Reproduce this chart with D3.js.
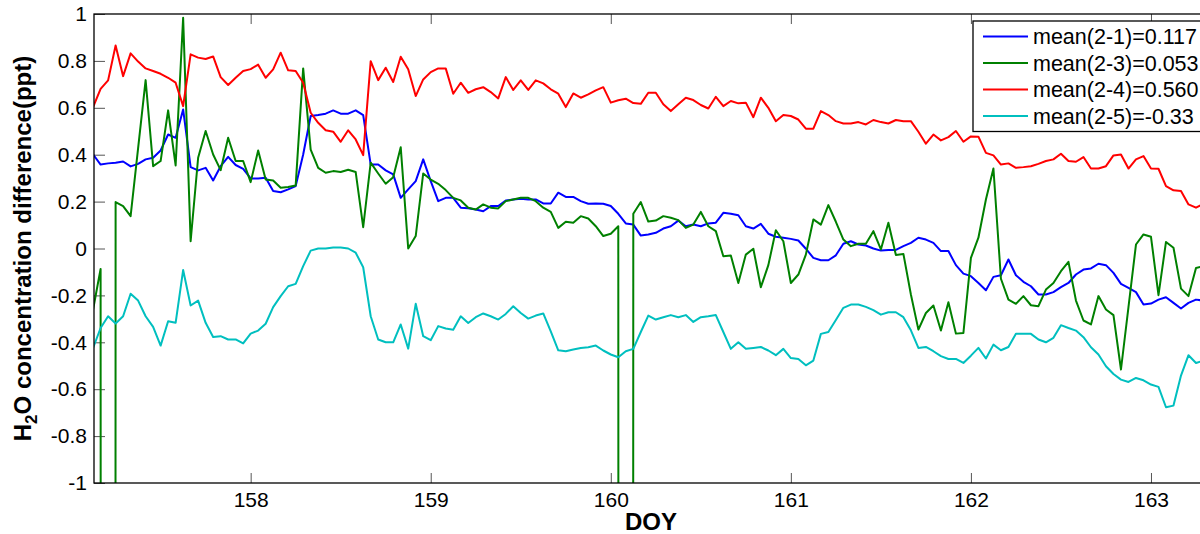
<!DOCTYPE html>
<html>
<head>
<meta charset="utf-8">
<script src="https://cdn.jsdelivr.net/npm/d3@7"></script>
<style>
body { margin: 0; background: #fff; }
svg text { font-family: Arial, "Liberation Sans", sans-serif; }
</style>
</head>
<body>
<div id="chart"></div>
<script>
// hourly samples, the first one at DOY 157.125
var startDOY = 157.125,
    stepDOY = 1 / 24;

var seriesNames = ['mean(2-1)=0.117', 'mean(2-3)=0.053', 'mean(2-4)=0.560', 'mean(2-5)=-0.33'];
var seriesColors = ['#0000ff', '#008000', '#ff0000', '#00bfbf'];

var diff21 = [0.401, 0.358, 0.363, 0.366, 0.371, 0.350, 0.361, 0.380, 0.387, 0.418,
    0.486, 0.472, 0.593, 0.347, 0.333, 0.344, 0.290, 0.351, 0.391, 0.356,
    0.340, 0.299, 0.299, 0.302, 0.245, 0.240, 0.252, 0.266, 0.401, 0.565,
    0.569, 0.575, 0.589, 0.575, 0.575, 0.589, 0.569, 0.358, 0.358, 0.333,
    0.316, 0.216, 0.252, 0.287, 0.380, 0.287, 0.202, 0.216, 0.216, 0.174,
    0.172, 0.166, 0.159, 0.181, 0.181, 0.205, 0.209, 0.212, 0.209, 0.209,
    0.192, 0.192, 0.238, 0.220, 0.220, 0.202, 0.191, 0.192, 0.191, 0.181,
    0.148, 0.107, 0.102, 0.055, 0.060, 0.067, 0.085, 0.095, 0.119, 0.095,
    0.102, 0.095, 0.107, 0.110, 0.152, 0.148, 0.142, 0.095, 0.085, 0.105,
    0.063, 0.050, 0.046, 0.041, 0.034, -0.001, -0.040, -0.050, -0.050, -0.029,
    0.020, 0.031, 0.017, 0.013, 0.000, -0.009, -0.006, -0.006, 0.010, 0.024,
    0.046, 0.038, 0.024, -0.011, -0.011, -0.071, -0.107, -0.118, -0.147, -0.178,
    -0.121, -0.114, -0.047, -0.114, -0.142, -0.161, -0.196, -0.196, -0.186, -0.165,
    -0.147, -0.111, -0.090, -0.085, -0.065, -0.071, -0.104, -0.151, -0.168, -0.186,
    -0.239, -0.235, -0.218, -0.208, -0.232, -0.256, -0.232, -0.218, -0.222];

// -99 marks the missing-value spikes that run off the bottom
var diff23 = [-0.260, -0.087, -99, 0.198, 0.181, 0.138, 0.428, 0.718, 0.351, 0.373,
    0.589, 0.354, 0.984, 0.031, 0.387, 0.501, 0.401, 0.334, 0.472, 0.373,
    0.373, 0.283, 0.418, 0.294, 0.290, 0.259, 0.262, 0.269, 0.768, 0.422,
    0.344, 0.323, 0.330, 0.326, 0.336, 0.326, 0.091, 0.366, 0.320, 0.276,
    0.304, 0.432, 0.000, 0.053, 0.320, 0.294, 0.276, 0.249, 0.216, 0.205,
    0.174, 0.166, 0.188, 0.174, 0.171, 0.202, 0.209, 0.216, 0.216, 0.202,
    0.174, 0.156, 0.088, 0.114, 0.110, 0.138, 0.128, 0.095, 0.053, 0.063,
    0.095, -99, 0.148, 0.198, 0.115, 0.119, 0.138, 0.131, 0.121, 0.088,
    0.102, 0.156, 0.095, 0.074, -0.033, -0.030, -0.147, -0.026, -0.001, -0.165,
    -0.071, 0.078, 0.031, -0.147, -0.111, -0.026, 0.124, 0.102, 0.185, 0.114,
    0.038, 0.010, 0.020, 0.020, 0.074, -0.004, 0.110, -0.028, -0.023, -0.196,
    -0.346, -0.275, -0.243, -0.350, -0.229, -0.363, -0.360, -0.040, 0.046, 0.209,
    0.341, -0.129, -0.218, -0.236, -0.203, -0.242, -0.246, -0.175, -0.147, -0.097,
    -0.057, -0.222, -0.307, -0.324, -0.203, -0.260, -0.284, -0.516, -0.250, 0.017,
    0.060, 0.050, -0.199, 0.028, 0.003, -0.171, -0.203, -0.083, -0.075];

var diff24 = [0.603, 0.681, 0.717, 0.866, 0.735, 0.832, 0.797, 0.768, 0.757, 0.745,
    0.728, 0.707, 0.607, 0.828, 0.814, 0.808, 0.819, 0.731, 0.697, 0.728,
    0.757, 0.765, 0.784, 0.728, 0.764, 0.835, 0.760, 0.757, 0.707, 0.579,
    0.536, 0.504, 0.498, 0.455, 0.504, 0.465, 0.398, 0.799, 0.718, 0.771,
    0.710, 0.818, 0.764, 0.650, 0.721, 0.752, 0.768, 0.768, 0.660, 0.707,
    0.664, 0.679, 0.688, 0.667, 0.640, 0.731, 0.676, 0.717, 0.676, 0.717,
    0.704, 0.679, 0.660, 0.603, 0.661, 0.643, 0.657, 0.674, 0.688, 0.622,
    0.632, 0.639, 0.620, 0.617, 0.664, 0.664, 0.615, 0.586, 0.615, 0.643,
    0.633, 0.612, 0.597, 0.647, 0.607, 0.629, 0.619, 0.622, 0.560, 0.643,
    0.600, 0.543, 0.569, 0.565, 0.550, 0.511, 0.511, 0.586, 0.569, 0.543,
    0.533, 0.533, 0.539, 0.529, 0.548, 0.539, 0.533, 0.548, 0.543, 0.543,
    0.498, 0.447, 0.486, 0.461, 0.475, 0.501, 0.455, 0.478, 0.477, 0.408,
    0.397, 0.358, 0.363, 0.344, 0.347, 0.351, 0.361, 0.373, 0.380, 0.404,
    0.373, 0.370, 0.390, 0.341, 0.341, 0.351, 0.397, 0.401, 0.341, 0.380,
    0.394, 0.341, 0.340, 0.266, 0.248, 0.245, 0.188, 0.174, 0.191];

var diff25 = [-0.424, -0.339, -0.289, -0.320, -0.289, -0.193, -0.222, -0.289, -0.334, -0.414,
    -0.310, -0.317, -0.092, -0.243, -0.222, -0.317, -0.377, -0.374, -0.388, -0.388,
    -0.405, -0.363, -0.350, -0.321, -0.250, -0.203, -0.161, -0.151, -0.075, -0.009,
    0.000, 0.000, 0.004, 0.004, 0.000, -0.018, -0.080, -0.289, -0.388, -0.400,
    -0.400, -0.324, -0.427, -0.236, -0.374, -0.391, -0.331, -0.341, -0.346, -0.289,
    -0.318, -0.293, -0.277, -0.289, -0.303, -0.279, -0.246, -0.275, -0.299, -0.286,
    -0.277, -0.353, -0.434, -0.438, -0.431, -0.424, -0.421, -0.414, -0.435, -0.452,
    -0.464, -0.438, -0.428, -0.356, -0.286, -0.303, -0.293, -0.284, -0.293, -0.284,
    -0.313, -0.293, -0.289, -0.284, -0.356, -0.428, -0.400, -0.428, -0.424, -0.420,
    -0.435, -0.455, -0.428, -0.467, -0.471, -0.498, -0.478, -0.364, -0.356, -0.305,
    -0.253, -0.239, -0.239, -0.249, -0.263, -0.282, -0.272, -0.272, -0.293, -0.349,
    -0.424, -0.420, -0.438, -0.459, -0.471, -0.471, -0.488, -0.457, -0.424, -0.469,
    -0.410, -0.434, -0.420, -0.364, -0.364, -0.364, -0.388, -0.400, -0.381, -0.327,
    -0.339, -0.350, -0.378, -0.421, -0.452, -0.502, -0.535, -0.559, -0.569, -0.552,
    -0.562, -0.580, -0.590, -0.677, -0.670, -0.542, -0.455, -0.488, -0.478];

var xTicks = [158, 159, 160, 161, 162, 163];
var yTicks = [-1, -0.8, -0.6, -0.4, -0.2, 0, 0.2, 0.4, 0.6, 0.8, 1];

var width = 1200,
    height = 534,
    margin = { top: 14, right: -5, bottom: 51, left: 94 };

var plotW = width - margin.left - margin.right,
    plotH = height - margin.top - margin.bottom;

var x = d3.scaleLinear().domain([157.13, 163.3]).range([0, plotW]);
var y = d3.scaleLinear().domain([-1, 1]).range([plotH, 0]);

var svg = d3.select('#chart').append('svg')
    .attr('width', width)
    .attr('height', height);

svg.append('defs').append('clipPath')
    .attr('id', 'plotclip')
  .append('rect')
    .attr('width', plotW)
    .attr('height', plotH);

var g = svg.append('g')
    .attr('transform', 'translate(' + margin.left + ',' + margin.top + ')');

// axes, ticks pointing inwards like matlab
var plain = function(d) { return String(d); };

var xAxis = d3.axisBottom(x).tickValues(xTicks).tickSizeInner(-10).tickSizeOuter(0).tickPadding(9)
    .tickFormat(plain);
var xAxisTop = d3.axisTop(x).tickValues(xTicks).tickSizeInner(-10).tickSizeOuter(0).tickFormat('');
var yAxis = d3.axisLeft(y).tickValues(yTicks).tickSizeInner(-11).tickSizeOuter(0).tickPadding(7)
    .tickFormat(plain);

g.append('g')
    .attr('class', 'axis')
    .attr('transform', 'translate(0,' + plotH + ')')
    .call(xAxis);
g.append('g')
    .attr('class', 'axis')
    .call(xAxisTop);
g.append('g')
    .attr('class', 'axis')
    .call(yAxis);

g.selectAll('.axis .domain').remove();
g.selectAll('.axis line').attr('stroke', '#555').attr('stroke-width', 1);
g.selectAll('.axis text')
    .attr('fill', '#000')
    .style('font-size', '21px');

var series = [diff21, diff23, diff24, diff25];

var line = d3.line()
    .x(function(d, i) { return x(startDOY + i * stepDOY); })
    .y(function(d) { return y(d); });

g.append('g')
    .attr('clip-path', 'url(#plotclip)')
    .selectAll('path')
    .data(series)
    .enter().append('path')
    .attr('d', line)
    .attr('fill', 'none')
    .attr('stroke', function(d, i) { return seriesColors[i]; })
    .attr('stroke-width', 2)
    .attr('stroke-linejoin', 'round');

// box round the plot
g.append('rect')
    .attr('width', plotW)
    .attr('height', plotH)
    .attr('fill', 'none')
    .attr('stroke', '#000')
    .attr('stroke-width', 1.3);

// legend
var legend = g.append('g')
    .attr('transform', 'translate(' + (973 - margin.left) + ',' + (21 - margin.top) + ')');

legend.append('rect')
    .attr('width', 240)
    .attr('height', 110.5)
    .attr('fill', '#fff')
    .attr('stroke', '#000')
    .attr('stroke-width', 1.3);

var rows = legend.selectAll('.row')
    .data(seriesNames)
    .enter().append('g')
    .attr('class', 'row')
    .attr('transform', function(d, i) { return 'translate(0,' + (15.5 + i * 26.5) + ')'; });

rows.append('line')
    .attr('x1', 10)
    .attr('x2', 55)
    .attr('stroke', function(d, i) { return seriesColors[i]; })
    .attr('stroke-width', 2);

rows.append('text')
    .attr('x', 60)
    .attr('dy', '0.35em')
    .style('font-size', '21.5px')
    .text(function(d) { return d; });

// axis titles
svg.append('text')
    .attr('x', 651)
    .attr('y', 530)
    .attr('text-anchor', 'middle')
    .style('font-size', '24px')
    .style('font-weight', 'bold')
    .text('DOY');

var yTitle = svg.append('text')
    .attr('transform', 'translate(31,' + (margin.top + plotH / 2) + ') rotate(-90)')
    .attr('text-anchor', 'middle')
    .style('font-size', '24px')
    .style('font-weight', 'bold');
yTitle.append('tspan').text('H');
yTitle.append('tspan').attr('dy', 6).style('font-size', '17px').text('2');
yTitle.append('tspan').attr('dy', -6).text('O concentration difference(ppt)');
</script>
</body>
</html>
